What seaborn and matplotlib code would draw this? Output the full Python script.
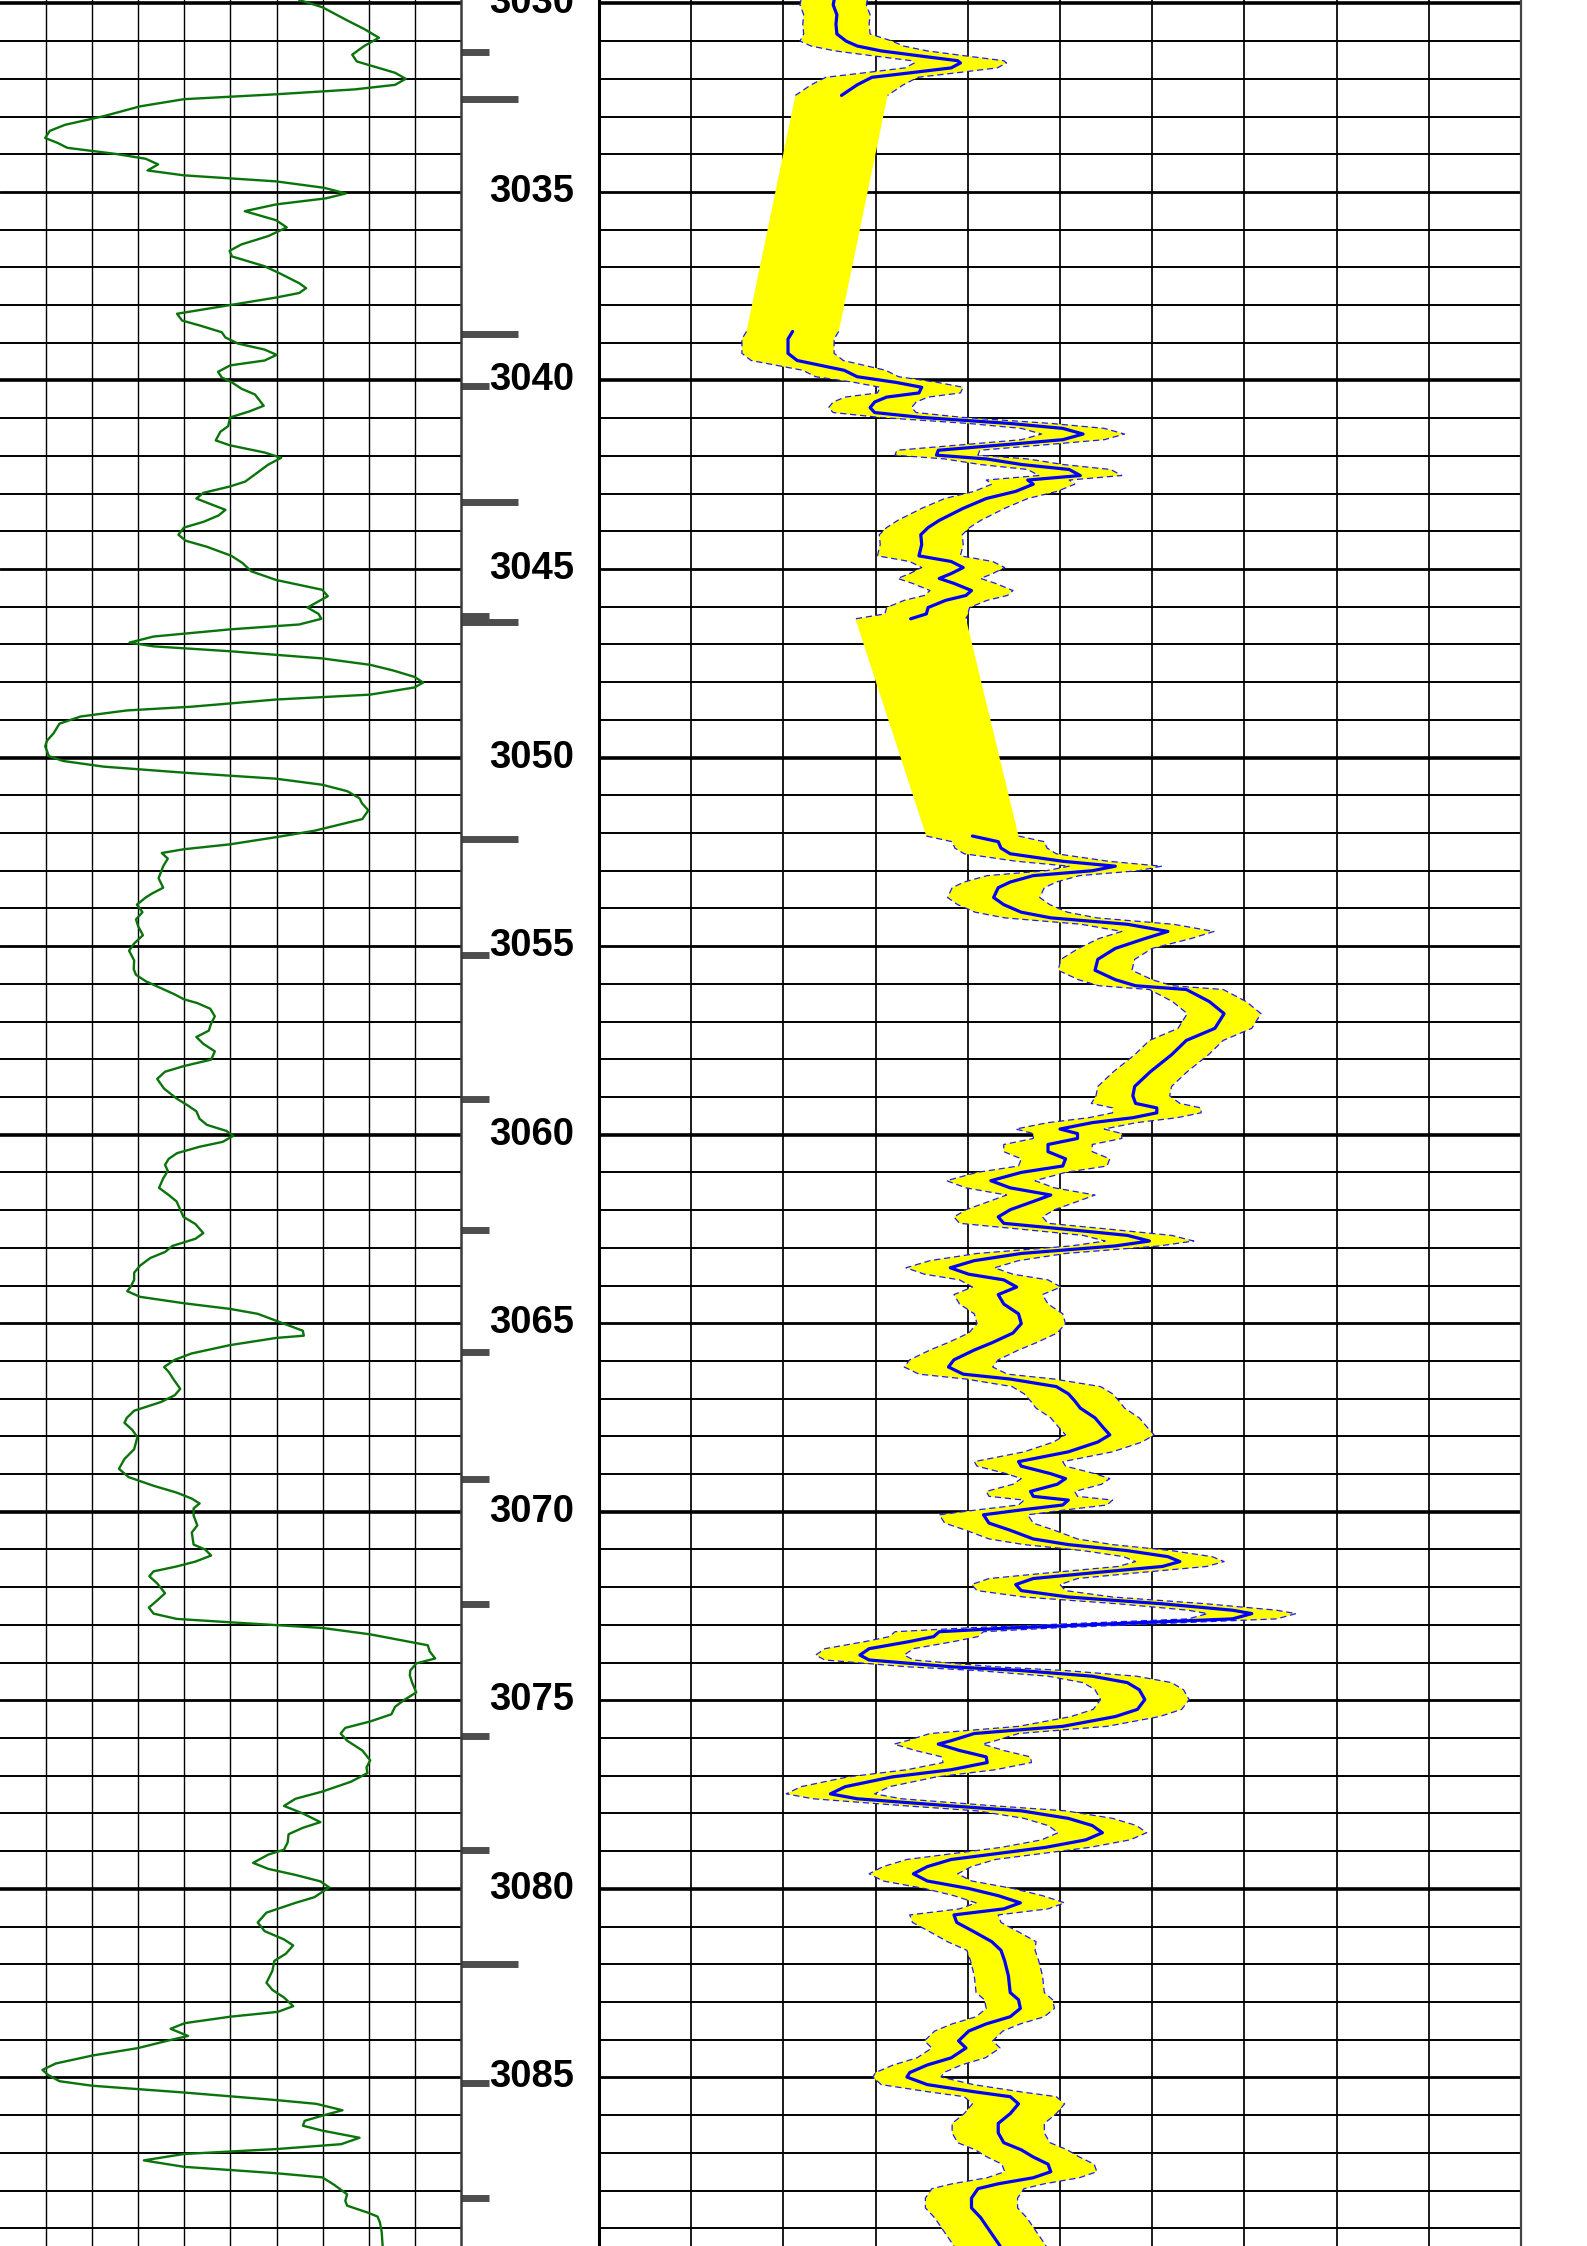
import numpy as np
import matplotlib
matplotlib.use('Agg')
import matplotlib.pyplot as plt
import seaborn as sns

sns.set_style('white')
plt.rcParams['font.family'] = ['Liberation Sans', 'DejaVu Sans']

TOP, BOTTOM = 3029.91, 3089.47

# left track curve (green), values in grid divisions 0-10
gr_depth = [
    3029.91, 3030.10, 3030.45, 3030.68, 3030.91, 3031.13, 3031.36, 3031.54, 3031.84, 3032.00,
    3032.16, 3032.28, 3032.41, 3032.54, 3032.73, 3032.99, 3033.22, 3033.38, 3033.57, 3033.70,
    3033.83, 3033.99, 3034.12, 3034.27, 3034.43, 3034.56, 3034.72, 3034.89, 3035.04, 3035.17,
    3035.33, 3035.51, 3035.75, 3035.94, 3036.17, 3036.39, 3036.56, 3036.71, 3036.97, 3037.16,
    3037.42, 3037.55, 3037.68, 3037.80, 3038.00, 3038.23, 3038.41, 3038.54, 3038.72, 3038.86,
    3039.02, 3039.18, 3039.32, 3039.47, 3039.60, 3039.77, 3039.92, 3040.05, 3040.22, 3040.37,
    3040.67, 3040.82, 3040.98, 3041.21, 3041.36, 3041.59, 3041.72, 3041.91, 3042.05, 3042.23,
    3042.49, 3042.68, 3042.81, 3042.98, 3043.13, 3043.26, 3043.43, 3043.58, 3043.75, 3043.90,
    3044.09, 3044.25, 3044.41, 3044.65, 3044.84, 3045.06, 3045.29, 3045.55, 3045.72, 3045.89,
    3046.02, 3046.19, 3046.32, 3046.47, 3046.60, 3046.79, 3046.95, 3047.05, 3047.18, 3047.37,
    3047.54, 3047.69, 3047.86, 3048.01, 3048.14, 3048.33, 3048.46, 3048.65, 3048.75, 3048.91,
    3049.10, 3049.36, 3049.55, 3049.70, 3049.96, 3050.09, 3050.24, 3050.40, 3050.56, 3050.72,
    3050.89, 3051.08, 3051.21, 3051.40, 3051.63, 3051.78, 3051.94, 3052.11, 3052.30, 3052.43,
    3052.53, 3052.68, 3052.88, 3053.20, 3053.45, 3053.61, 3053.71, 3053.90, 3054.10, 3054.29,
    3054.48, 3054.71, 3054.93, 3055.12, 3055.38, 3055.61, 3055.76, 3055.93, 3056.08, 3056.28,
    3056.41, 3056.51, 3056.66, 3056.86, 3057.05, 3057.24, 3057.41, 3057.59, 3057.79, 3058.01,
    3058.18, 3058.33, 3058.52, 3058.78, 3059.04, 3059.23, 3059.38, 3059.58, 3059.74, 3059.90,
    3060.03, 3060.19, 3060.32, 3060.49, 3060.64, 3060.80, 3060.96, 3061.16, 3061.41, 3061.60,
    3061.77, 3061.99, 3062.18, 3062.37, 3062.61, 3062.76, 3062.95, 3063.11, 3063.27, 3063.47,
    3063.66, 3063.85, 3064.04, 3064.15, 3064.30, 3064.47, 3064.62, 3064.75, 3065.01, 3065.20,
    3065.33, 3065.39, 3065.58, 3065.80, 3065.97, 3066.16, 3066.29, 3066.48, 3066.74, 3066.91,
    3067.09, 3067.32, 3067.51, 3067.64, 3067.83, 3068.02, 3068.34, 3068.60, 3068.86, 3069.08,
    3069.31, 3069.49, 3069.65, 3069.78, 3069.91, 3070.10, 3070.36, 3070.55, 3070.87, 3071.00,
    3071.16, 3071.32, 3071.45, 3071.58, 3071.71, 3071.90, 3072.16, 3072.35, 3072.54, 3072.70,
    3072.84, 3072.93, 3073.08, 3073.25, 3073.54, 3073.70, 3073.89, 3074.02, 3074.21, 3074.34,
    3074.53, 3074.79, 3074.98, 3075.17, 3075.37, 3075.56, 3075.73, 3075.88, 3076.07, 3076.33,
    3076.59, 3076.78, 3076.93, 3077.16, 3077.42, 3077.61, 3077.80, 3078.00, 3078.23, 3078.38,
    3078.55, 3078.77, 3078.96, 3079.09, 3079.31, 3079.47, 3079.63, 3079.80, 3079.96, 3080.22,
    3080.37, 3080.63, 3080.89, 3081.12, 3081.34, 3081.50, 3081.72, 3081.91, 3082.17, 3082.49,
    3082.68, 3082.88, 3083.11, 3083.26, 3083.39, 3083.56, 3083.71, 3083.90, 3084.03, 3084.22,
    3084.42, 3084.63, 3084.80, 3084.93, 3085.10, 3085.22, 3085.40, 3085.60, 3085.70, 3085.87,
    3086.00, 3086.15, 3086.28, 3086.41, 3086.60, 3086.77, 3086.90, 3087.03, 3087.20, 3087.37,
    3087.54, 3087.65, 3087.84, 3088.10, 3088.27, 3088.40, 3088.59, 3088.69, 3088.84, 3089.10,
    3089.47,
]
gr_value = [
    6.49, 6.99, 7.53, 7.90, 8.22, 7.90, 7.64, 7.74, 8.57, 8.80,
    8.57, 7.70, 5.99, 3.99, 3.04, 2.25, 1.41, 1.08, 0.98, 1.25,
    1.46, 2.50, 3.16, 3.43, 3.20, 3.99, 5.99, 7.03, 7.50, 7.07,
    5.99, 5.31, 5.99, 6.22, 5.82, 5.24, 4.98, 5.03, 5.74, 6.07,
    6.49, 6.64, 6.49, 5.99, 4.99, 3.84, 3.95, 4.33, 4.81, 4.89,
    5.16, 5.74, 6.00, 5.74, 4.99, 4.73, 4.81, 5.03, 5.24, 5.53,
    5.72, 5.41, 4.99, 4.95, 4.78, 4.68, 4.99, 5.74, 6.10, 5.82,
    5.53, 5.32, 4.99, 4.41, 4.26, 4.53, 4.89, 4.74, 4.41, 3.99,
    3.87, 4.03, 4.49, 5.02, 5.26, 5.45, 5.99, 6.99, 7.11, 6.86,
    6.67, 6.91, 6.97, 6.49, 4.99, 3.33, 2.81, 3.33, 4.99, 6.99,
    8.03, 8.53, 8.99, 9.18, 8.99, 8.03, 5.99, 4.16, 2.75, 1.75,
    1.29, 1.16, 1.02, 0.98, 1.06, 1.37, 2.25, 3.99, 5.99, 6.99,
    7.53, 7.80, 7.85, 7.99, 7.86, 7.36, 6.82, 5.99, 4.99, 3.99,
    3.51, 3.64, 3.54, 3.44, 3.54, 3.29, 3.16, 2.97, 3.09, 2.95,
    3.00, 3.10, 2.91, 2.80, 2.91, 2.90, 2.95, 3.16, 3.43, 3.79,
    3.99, 4.28, 4.56, 4.66, 4.58, 4.53, 4.26, 4.41, 4.66, 4.58,
    3.99, 3.58, 3.41, 3.56, 3.83, 4.08, 4.26, 4.33, 4.49, 4.91,
    5.06, 4.83, 4.33, 3.84, 3.66, 3.58, 3.64, 3.54, 3.45, 3.66,
    3.83, 3.91, 3.98, 4.24, 4.41, 4.24, 3.74, 3.58, 3.26, 3.04,
    2.91, 2.91, 2.83, 2.76, 3.04, 3.99, 4.99, 5.59, 6.16, 6.57,
    6.59, 5.99, 4.99, 4.16, 3.79, 3.56, 3.66, 3.76, 3.91, 3.79,
    3.49, 2.91, 2.75, 2.70, 2.87, 2.98, 2.91, 2.70, 2.58, 2.79,
    3.33, 3.83, 4.16, 4.33, 4.20, 4.20, 4.28, 4.16, 4.20, 4.45,
    4.58, 4.24, 3.83, 3.33, 3.24, 3.41, 3.58, 3.41, 3.23, 3.33,
    3.83, 4.99, 6.99, 8.03, 9.28, 9.32, 9.44, 9.03, 8.90, 8.89,
    8.94, 9.03, 8.78, 8.57, 8.49, 8.03, 7.49, 7.39, 7.53, 7.86,
    8.03, 7.95, 7.97, 7.61, 6.99, 6.41, 6.16, 6.57, 6.95, 6.57,
    6.26, 6.24, 6.16, 5.82, 5.49, 5.82, 6.41, 6.95, 7.14, 6.82,
    6.41, 5.78, 5.59, 5.74, 6.16, 6.36, 6.20, 5.95, 5.91, 5.78,
    5.91, 6.16, 6.36, 6.03, 4.99, 4.01, 3.70, 4.08, 3.62, 3.00,
    2.00, 1.21, 0.92, 1.04, 1.29, 2.00, 3.99, 5.99, 6.86, 7.43,
    7.03, 6.61, 6.57, 6.99, 7.80, 7.40, 5.99, 3.99, 3.12, 3.99,
    5.99, 6.99, 7.24, 7.53, 7.49, 7.53, 7.99, 8.19, 8.24, 8.28,
    8.30,
]

# right track curve (blue) with two gaps, values in grid divisions 0-10
log_depth = [
    3029.91, 3030.04, 3030.30, 3030.55, 3030.81, 3031.00, 3031.13, 3031.26, 3031.39, 3031.52,
    3031.58, 3031.71, 3031.84, 3031.96, 3032.16, 3032.44,
    3038.70, 3038.90, 3039.28, 3039.47, 3039.73, 3039.90, 3040.05, 3040.18, 3040.33, 3040.44,
    3040.57, 3040.72, 3040.85, 3040.98, 3041.14, 3041.27, 3041.42, 3041.57, 3041.69, 3041.85,
    3041.98, 3042.08, 3042.23, 3042.36, 3042.52, 3042.64, 3042.75, 3042.94, 3043.13, 3043.39,
    3043.71, 3043.90, 3044.09, 3044.35, 3044.65, 3044.80, 3044.96, 3045.12, 3045.25, 3045.38,
    3045.57, 3045.70, 3045.83, 3046.02, 3046.19, 3046.32,
    3052.08, 3052.23, 3052.40, 3052.55, 3052.75, 3052.88, 3053.00, 3053.13, 3053.30, 3053.45,
    3053.71, 3053.90, 3054.10, 3054.25, 3054.42, 3054.61, 3054.80, 3055.06, 3055.35, 3055.64,
    3055.89, 3056.05, 3056.15, 3056.47, 3056.79, 3057.18, 3057.50, 3057.88, 3058.33, 3058.72,
    3058.97, 3059.17, 3059.29, 3059.42, 3059.55, 3059.68, 3059.85, 3059.97, 3060.10, 3060.26,
    3060.45, 3060.64, 3060.83, 3061.00, 3061.22, 3061.41, 3061.60, 3061.77, 3061.99, 3062.18,
    3062.35, 3062.50, 3062.67, 3062.82, 3062.95, 3063.15, 3063.34, 3063.53, 3063.70, 3063.85,
    3064.04, 3064.24, 3064.49, 3064.75, 3065.01, 3065.26, 3065.52, 3065.71, 3065.97, 3066.16,
    3066.35, 3066.48, 3066.68, 3066.87, 3067.06, 3067.25, 3067.51, 3067.77, 3067.96, 3068.15,
    3068.41, 3068.67, 3068.79, 3068.99, 3069.12, 3069.27, 3069.46, 3069.59, 3069.69, 3069.82,
    3069.95, 3070.08, 3070.30, 3070.49, 3070.72, 3070.87, 3071.03, 3071.19, 3071.32, 3071.45,
    3071.62, 3071.77, 3071.93, 3072.09, 3072.26, 3072.44, 3072.61, 3072.70, 3072.84, 3072.99,
    3073.08, 3073.18, 3073.31, 3073.44, 3073.63, 3073.80, 3073.93, 3074.11, 3074.21, 3074.36,
    3074.53, 3074.72, 3074.98, 3075.24, 3075.43, 3075.69, 3075.88, 3076.07, 3076.16, 3076.33,
    3076.50, 3076.65, 3076.84, 3077.03, 3077.29, 3077.48, 3077.61, 3077.80, 3077.93, 3078.13,
    3078.32, 3078.51, 3078.70, 3078.90, 3079.06, 3079.22, 3079.41, 3079.60, 3079.79, 3079.99,
    3080.18, 3080.37, 3080.53, 3080.69, 3080.89, 3081.14, 3081.40, 3081.63, 3081.91, 3082.30,
    3082.75, 3082.94, 3083.17, 3083.39, 3083.58, 3083.77, 3084.03, 3084.22, 3084.48, 3084.67,
    3084.87, 3084.99, 3085.19, 3085.38, 3085.51, 3085.70, 3085.96, 3086.22, 3086.47, 3086.73,
    3086.92, 3087.11, 3087.30, 3087.50, 3087.66, 3087.82, 3087.95, 3088.20, 3088.46, 3088.72,
    3089.04, 3089.47,
]
log_value = [
    2.55, 2.54, 2.58, 2.57, 2.58, 2.68, 2.80, 3.06, 3.47, 3.89,
    3.92, 3.82, 3.38, 2.96, 2.80, 2.63,
    2.10, 2.05, 2.05, 2.15, 2.66, 2.80, 3.22, 3.50, 3.47, 3.12,
    2.99, 2.94, 2.99, 3.50, 4.46, 5.03, 5.25, 5.03, 4.46, 3.68,
    3.66, 4.20, 4.59, 5.10, 5.22, 4.65, 4.71, 4.52, 4.20, 3.95,
    3.69, 3.57, 3.49, 3.50, 3.47, 3.82, 3.95, 3.82, 3.69, 3.85,
    4.04, 3.98, 3.76, 3.57, 3.55, 3.38,
    4.05, 4.33, 4.36, 4.46, 5.03, 5.60, 5.35, 4.71, 4.46, 4.33,
    4.28, 4.39, 4.58, 4.90, 5.73, 6.17, 5.92, 5.60, 5.41, 5.38,
    5.60, 5.82, 6.37, 6.62, 6.78, 6.68, 6.37, 6.21, 5.98, 5.81,
    5.79, 5.82, 6.05, 6.05, 5.79, 5.35, 5.00, 5.19, 5.19, 4.87,
    4.87, 5.06, 5.03, 4.58, 4.25, 4.46, 4.90, 4.71, 4.46, 4.33,
    4.39, 5.03, 5.73, 5.97, 5.60, 4.58, 4.07, 3.81, 4.01, 4.39,
    4.53, 4.33, 4.39, 4.55, 4.58, 4.49, 4.26, 4.07, 3.85, 3.79,
    3.95, 4.46, 4.96, 5.09, 5.16, 5.22, 5.38, 5.47, 5.54, 5.41,
    5.09, 4.55, 4.58, 4.90, 5.06, 4.97, 4.68, 4.71, 5.09, 5.03,
    4.58, 4.17, 4.23, 4.46, 4.71, 5.09, 5.73, 6.17, 6.30, 6.11,
    5.35, 4.71, 4.52, 4.58, 5.09, 6.11, 6.87, 7.08, 6.87, 5.35,
    4.46, 3.69, 3.63, 3.37, 2.93, 2.83, 2.93, 3.82, 4.58, 5.35,
    5.73, 5.86, 5.92, 5.84, 5.60, 5.03, 4.07, 3.82, 3.68, 3.91,
    4.20, 4.21, 3.82, 3.18, 2.67, 2.51, 2.80, 3.82, 4.58, 5.09,
    5.35, 5.46, 5.28, 4.84, 4.33, 3.82, 3.56, 3.41, 3.56, 4.01,
    4.33, 4.57, 4.39, 3.85, 3.88, 4.07, 4.26, 4.36, 4.40, 4.44,
    4.46, 4.55, 4.57, 4.46, 4.20, 4.01, 3.90, 3.98, 3.82, 3.56,
    3.37, 3.34, 3.56, 4.07, 4.46, 4.55, 4.46, 4.33, 4.33, 4.39,
    4.58, 4.71, 4.87, 4.90, 4.71, 4.33, 4.11, 4.04, 4.04, 4.14,
    4.23, 4.35,
]

# half width of the yellow band, read per depth interval
spread_top = [3029.0, 3031.0, 3039.5, 3046.2, 3052.0, 3055.0, 3059.0, 3081.5, 3085.0]
spread_half = [0.36, 0.50, 0.45, 0.60, 0.50, 0.40, 0.48, 0.37, 0.50]

# layer markers in depth track (True = long bar)
marker_depth = [3031.30, 3032.53, 3038.77, 3040.15, 3043.21, 3046.24, 3046.41, 3052.17,
                3055.24, 3059.05, 3062.54, 3065.76, 3069.12, 3072.45, 3075.94, 3078.96,
                3081.98, 3085.15, 3088.20]
marker_long = [False, True, True, False, True, False, True, True,
               False, False, False, False, False, False, False, False,
               True, False, False]

depth_labels = list(range(3030, 3090, 5))

W, H = 1587, 2246
fig = plt.figure(figsize=(W / 100, H / 100), dpi=100)
ax_gr = fig.add_axes([0, 0, 461 / W, 1])
ax_dep = fig.add_axes([461 / W, 0, 138 / W, 1])
ax_log = fig.add_axes([599 / W, 0, 922 / W, 1])

for ax in (ax_gr, ax_dep, ax_log):
    ax.set_ylim(BOTTOM, TOP)
    ax.set_xticks([])
    ax.set_yticks([])
    for s in ax.spines.values():
        s.set_visible(False)
    ax.set_facecolor('none')


def draw_grid(ax, vlw):
    ax.set_xlim(0, 10)
    for d in range(3030, 3090):
        if d % 10 == 0:
            lw = 2.6
        elif d % 5 == 0:
            lw = 2.0
        else:
            lw = 1.4
        ax.axhline(d, color='black', lw=lw, zorder=1)
    for k in range(1, 10):
        ax.axvline(k, color='black', lw=vlw, zorder=1)


draw_grid(ax_gr, 1.0)
draw_grid(ax_log, 1.25)

# green curve
sns.lineplot(x=gr_value, y=gr_depth, orient='y', sort=False, estimator=None,
             color='#0b730b', lw=1.7, ax=ax_gr, zorder=3)

# right track: band + centre line, split at the gaps
ld = np.array(log_depth)
lv = np.array(log_value)
half = np.array(spread_half)[np.searchsorted(spread_top, ld, side='right') - 1]
left = lv - half
right = lv + half
ax_log.fill_betweenx(ld, left, right, color='#ffff00', lw=0, zorder=2)

breaks = np.where(np.diff(ld) > 1.0)[0] + 1
for seg in np.split(np.arange(len(ld)), breaks):
    for edge in (left[seg], right[seg]):
        ax_log.plot(edge, ld[seg], color='#1a1aff', lw=0.9, ls=(0, (5, 3)), zorder=3)
    sns.lineplot(x=lv[seg], y=ld[seg], orient='y', sort=False, estimator=None,
                 color='#0000ff', lw=2.3, ax=ax_log, zorder=4)

for ax in (ax_gr, ax_log):
    ax.set_xlabel('')
    ax.set_ylabel('')

# depth track
ax_dep.set_xlim(0, 1)
ax_dep.axvline(0, color='#3a3a3a', lw=1.8, clip_on=False, zorder=3)
ax_dep.axvline(1, color='black', lw=2.2, clip_on=False, zorder=3)
ax_log.axvline(10, color='#444444', lw=1.6, clip_on=False, zorder=3)
bar_len = [0.41 if m else 0.205 for m in marker_long]
ax_dep.hlines(marker_depth, 0, bar_len, color='#4d4d4d', lw=5, zorder=2)
for d in depth_labels:
    ax_dep.text(0.51, d, str(d), ha='center', va='center', fontsize=27.5,
                fontweight='bold', color='black', zorder=4)

fig.savefig('out.png', dpi=100)
